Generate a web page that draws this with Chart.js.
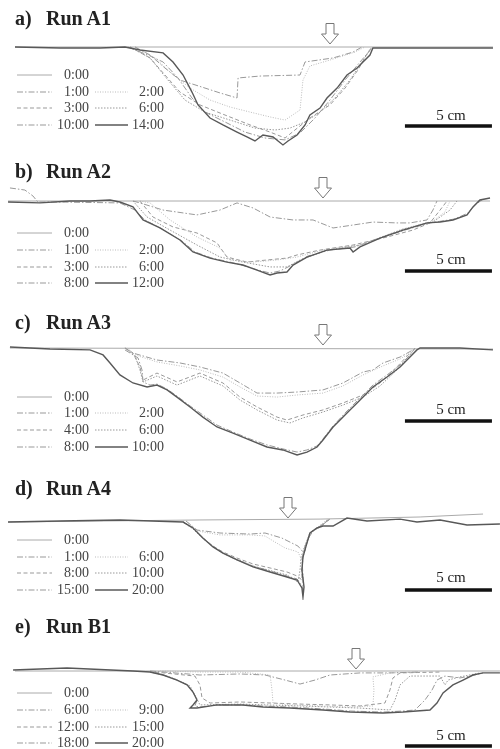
<!DOCTYPE html>
<html>
<head>
<meta charset="utf-8">
<script src="https://cdn.jsdelivr.net/npm/chart.js@4"></script>
<style>
	body { margin: 0; background: #fff; }
	#fig { position: relative; width: 500px; height: 749px; background: #fff; overflow: hidden; }
	#fig canvas { position: absolute; left: 0; }
	.ttl { position: absolute; font: bold 20px "Liberation Serif", serif; line-height: 20px; color: #222; white-space: nowrap; }
	.lg { position: absolute; font: 14px "Liberation Serif", serif; line-height: 16px; color: #444; text-align: right; width: 36px; }
	.bar-txt { position: absolute; left: 405px; width: 92px; text-align: center; font: 15px "Liberation Serif", serif; line-height: 15px; color: #222; }
	svg { position: absolute; overflow: visible; }
</style>
</head>
<body>
<div id="fig"></div>
<script>
// cross-section profiles, x = distance (cm), y = elevation relative to initial bed (cm)
const PX_PER_CM = 17.4; // 5 cm bar = 87 px
const X0_PX = 15;

// ---- a) Run A1
const A1_labels = ["0:00", "1:00", "2:00", "3:00", "6:00", "10:00", "14:00"];
const A1_t0 = [[0, 0], [27.47, 0]];
const A1_t1 = [[6.9, 0], [7.76, -0.46], [8.62, -1.21], [9.48, -1.9], [10.92, -2.36], [11.78, -2.64], [12.76, -2.93], [12.82, -1.78], [14.08, -1.67], [16.38, -1.61], [16.67, -0.86], [18.28, -0.63], [19.43, -0.29], [19.94, 0]];
const A1_t2 = [[6.9, 0], [8.05, -0.63], [8.91, -1.44], [10.06, -2.36], [11.21, -3.05], [12.36, -3.45], [13.51, -3.74], [14.66, -4.02], [15.52, -4.2], [16.38, -3.62], [16.55, -1.9], [16.95, -1.09], [18.1, -0.75], [19.54, -0.29], [20.11, 0]];
const A1_t3 = [[6.61, 0], [7.76, -0.63], [8.62, -1.61], [9.48, -2.59], [10.63, -3.33], [12.07, -3.91], [13.51, -4.48], [14.66, -4.89], [15.52, -5.23], [16.09, -4.77], [16.95, -4.08], [18.1, -3.33], [18.97, -2.36], [19.71, -1.32], [20.29, -0.29], [20.52, 0]];
const A1_t6 = [[6.61, 0], [7.76, -0.63], [8.79, -1.9], [9.77, -3.05], [10.92, -3.74], [12.36, -4.2], [13.79, -4.66], [14.94, -4.77], [15.8, -4.66], [16.67, -4.31], [17.53, -3.74], [18.39, -2.93], [19.25, -1.9], [19.94, -0.86], [20.4, -0.17]];
const A1_t10 = [[6.49, 0], [7.64, -0.46], [8.51, -0.86], [9.37, -1.78], [10.17, -2.93], [10.92, -3.74], [12.07, -4.31], [13.22, -4.89], [14.37, -5.23], [15.52, -5.34], [16.38, -4.94], [17.24, -4.08], [18.1, -3.05], [18.97, -1.9], [19.83, -0.86], [20.52, -0.06]];
const A1_t14 = [[0, 0], [2.59, -0.06], [4.89, -0.06], [6.32, 0], [7.18, -0.17], [8.51, -0.34], [9.08, -0.86], [9.66, -1.61], [10.17, -2.59], [10.52, -3.33], [11.21, -4.08], [11.95, -4.48], [12.76, -4.89], [13.33, -5.17], [13.79, -5.4], [14.25, -5.06], [14.83, -5.17], [15.4, -5.63], [15.69, -5.4], [16.21, -5.06], [16.67, -4.48], [16.95, -3.91], [17.53, -3.51], [17.93, -2.93], [18.51, -2.36], [19.08, -1.61], [19.66, -1.21], [20.0, -0.86], [20.4, -0.46], [20.57, -0.06], [22.13, -0.06], [25.0, -0.06], [27.47, -0.06]];

// ---- b) Run A2
const A2_labels = ["0:00", "1:00", "2:00", "3:00", "6:00", "8:00", "12:00"];
const A2_t0 = [[-0.4, 0], [27.3, 0]];
const A2_t1 = [[6.78, 0], [7.18, -0.11], [8.51, -0.52], [10.46, -0.8], [11.78, -0.52], [12.76, -0.11], [13.68, -0.4], [14.66, -0.92], [15.98, -1.09], [17.13, -1.09], [18.28, -1.55], [19.43, -1.38], [20.57, -1.21], [21.95, -1.26], [22.7, -1.26], [23.68, -1.09], [24.02, -0.52], [24.25, 0]];
const A2_t2 = [[7.18, 0], [7.76, -0.11], [8.91, -1.09], [10.46, -2.07], [11.78, -2.7], [12.36, -3.39], [13.68, -3.51], [15.06, -3.39], [16.21, -3.22], [17.93, -2.76], [19.83, -2.53], [22.3, -1.61], [24.02, -1.15], [24.71, -0.63], [25.0, 0]];
const A2_t3 = [[7.18, 0], [7.93, -0.92], [9.08, -1.49], [10.46, -1.84], [11.61, -2.41], [12.18, -3.22], [13.33, -3.51], [14.48, -3.39], [15.63, -3.28], [16.21, -3.1], [17.53, -2.82], [19.43, -2.53], [21.38, -2.07], [22.87, -1.67], [23.85, -1.26], [24.43, -0.52], [24.83, 0]];
const A2_t6 = [[6.78, 0], [7.59, -0.92], [8.91, -1.67], [10.46, -2.53], [11.78, -3.22], [13.1, -3.51], [14.66, -3.79], [15.63, -3.79], [16.38, -3.39], [17.93, -2.82], [19.83, -2.53], [22.3, -1.61], [24.02, -1.21], [25.0, -0.52], [25.4, 0]];
const A2_t8 = [[-0.29, 0.75], [0.57, 0.63], [1.03, 0.29], [1.32, -0.06], [2.59, -0.06], [6.03, -0.11], [6.9, -0.52], [7.47, -1.09], [8.45, -1.61], [9.6, -2.3], [10.34, -2.93], [11.32, -3.28], [12.36, -3.51], [13.22, -3.74], [13.97, -3.97], [14.66, -4.14], [15.23, -4.02], [15.8, -3.74], [16.84, -3.16], [18.1, -2.82], [19.54, -2.64], [20.98, -2.13], [22.41, -1.67], [23.85, -1.26], [25.29, -1.03], [26.03, -0.69], [26.44, -0.23], [26.9, 0.11]];
const A2_t12 = [[-0.4, -0.06], [1.44, -0.11], [3.16, 0], [4.31, 0], [5.46, 0.06], [6.03, -0.06], [6.78, -0.34], [7.36, -1.09], [8.33, -1.55], [9.48, -2.24], [10.23, -2.93], [11.21, -3.28], [12.18, -3.51], [13.1, -3.68], [13.91, -3.97], [14.66, -4.25], [15.06, -4.14], [15.63, -4.08], [15.98, -3.68], [16.78, -3.22], [17.93, -2.82], [19.25, -2.7], [19.43, -2.93], [19.83, -2.64], [20.98, -2.13], [22.3, -1.67], [23.68, -1.26], [24.43, -1.21], [25.17, -1.09], [25.98, -0.8], [26.32, -0.34], [26.72, 0.06], [27.3, 0.17]];

// ---- c) Run A3
const A3_labels = ["0:00", "1:00", "2:00", "4:00", "6:00", "8:00", "10:00"];
const A3_t0 = [[-0.29, 0], [27.47, -0.06]];
const A3_t1 = [[6.32, 0], [6.78, -0.29], [8.16, -0.69], [9.48, -0.86], [10.63, -1.09], [11.95, -1.44], [12.93, -2.01], [13.91, -2.59], [15.06, -2.59], [16.21, -2.53], [17.7, -2.41], [18.85, -2.01], [20.0, -1.38], [20.57, -1.26], [21.15, -0.86], [22.13, -0.52], [22.87, -0.11]];
const A3_t2 = [[6.49, 0], [6.9, -0.4], [8.16, -0.8], [9.48, -1.03], [10.63, -1.26], [11.95, -1.67], [12.93, -2.24], [13.91, -2.76], [15.06, -2.82], [16.21, -2.7], [17.7, -2.59], [18.85, -2.18], [20.0, -1.55], [21.15, -1.03], [22.13, -0.63], [22.99, -0.11]];
const A3_t4 = [[6.32, 0], [6.78, -0.29], [7.18, -1.09], [7.36, -1.84], [8.16, -1.44], [9.31, -1.95], [10.63, -1.44], [11.95, -2.01], [12.93, -2.82], [13.91, -3.39], [15.06, -3.97], [15.63, -4.14], [16.55, -3.85], [17.7, -3.56], [18.85, -3.16], [20.0, -2.7], [20.98, -2.01], [21.95, -1.09], [22.7, -0.29]];
const A3_t6 = [[6.32, 0], [6.9, -0.46], [7.18, -1.26], [7.36, -1.95], [8.16, -1.61], [9.31, -2.13], [10.63, -1.61], [11.95, -2.18], [12.93, -2.99], [13.91, -3.56], [15.06, -4.14], [15.8, -4.31], [16.55, -4.02], [17.7, -3.68], [18.85, -3.28], [20.0, -2.82], [20.98, -2.18], [21.95, -1.26], [22.7, -0.4], [22.99, 0]];
const A3_t8 = [[6.32, -0.11], [7.07, -0.57], [7.3, -1.26], [7.36, -1.95], [7.76, -2.13], [8.16, -2.07], [8.74, -2.36], [9.31, -2.76], [10.06, -3.33], [10.8, -3.85], [11.61, -4.43], [12.53, -4.83], [13.51, -5.23], [14.48, -5.57], [15.4, -5.8], [16.21, -5.98], [16.78, -5.86], [17.36, -5.63], [17.7, -5.23], [18.28, -4.48], [19.08, -3.62], [19.83, -2.87], [20.57, -2.13], [21.38, -1.55], [22.13, -0.98], [22.7, -0.4], [22.99, 0]];
const A3_t10 = [[-0.29, 0.06], [2.01, -0.06], [4.31, -0.11], [5.06, -0.4], [5.46, -0.86], [6.03, -1.55], [6.78, -2.01], [7.59, -2.24], [8.16, -2.13], [8.74, -2.41], [9.31, -2.82], [10.06, -3.39], [10.8, -3.97], [11.61, -4.54], [12.53, -4.89], [13.51, -5.29], [14.48, -5.69], [15.4, -5.86], [16.21, -6.15], [16.78, -5.98], [17.36, -5.69], [17.7, -5.29], [18.28, -4.54], [19.08, -3.74], [19.83, -2.99], [20.57, -2.24], [21.38, -1.67], [22.13, -1.09], [22.7, -0.52], [23.1, -0.11], [23.28, 0], [25.57, 0], [27.47, -0.11]];

// ---- d) Run A4
const A4_labels = ["0:00", "1:00", "6:00", "8:00", "10:00", "15:00", "20:00"];
const A4_t0 = [[-0.4, -0.06], [10.63, 0.06], [17.53, 0.11], [23.28, 0.23], [26.9, 0.4]];
const A4_t1 = [[9.83, 0], [10.46, -0.52], [11.78, -0.69], [13.51, -0.75], [14.37, -0.69], [15.34, -0.98], [16.26, -1.44], [16.61, -1.84], [16.78, -1.26], [16.95, -0.69], [17.36, -0.4], [17.7, -0.23], [17.99, 0.11]];
const A4_t6 = [[9.83, 0], [10.46, -0.57], [11.78, -0.8], [13.51, -0.8], [14.37, -0.86], [14.94, -1.21], [15.52, -1.55], [16.26, -1.78], [16.49, -2.24], [16.61, -1.55], [16.84, -1.09], [17.01, -0.63], [17.41, -0.34], [17.99, 0.11]];
const A4_t8 = [[9.66, -0.06], [10.23, -0.4], [10.8, -0.98], [11.38, -1.44], [11.95, -1.78], [12.76, -2.13], [13.68, -2.47], [14.66, -2.7], [15.63, -2.93], [16.21, -3.16], [16.49, -3.39], [16.49, -2.82], [16.55, -2.07], [16.78, -1.26], [16.95, -0.69], [17.36, -0.4], [18.1, 0.11]];
const A4_t10 = [[9.66, -0.06], [10.23, -0.46], [10.8, -1.03], [11.95, -1.84], [13.68, -2.59], [15.63, -3.1], [16.26, -3.51], [16.38, -2.82], [16.44, -2.07], [16.72, -1.26], [16.95, -0.69], [17.53, -0.34], [18.1, 0.11]];
const A4_t15 = [[9.66, -0.06], [10.23, -0.4], [10.8, -0.98], [11.38, -1.49], [11.95, -1.84], [12.76, -2.24], [13.68, -2.59], [14.66, -2.87], [15.63, -3.16], [16.21, -3.33], [16.49, -3.74], [16.55, -3.97], [16.55, -3.1], [16.49, -2.24], [16.61, -1.61], [16.84, -1.03], [17.13, -0.57], [17.53, -0.29], [18.1, 0.11]];
const A4_t20 = [[-0.4, -0.06], [2.59, 0], [6.03, 0.06], [9.66, -0.06], [10.23, -0.4], [10.8, -0.98], [11.38, -1.49], [11.95, -1.84], [12.76, -2.24], [13.68, -2.64], [14.66, -2.93], [15.63, -3.22], [16.21, -3.39], [16.49, -3.85], [16.55, -4.37], [16.61, -3.79], [16.49, -2.82], [16.55, -2.07], [16.78, -1.26], [16.95, -0.69], [17.36, -0.4], [17.7, -0.29], [18.28, -0.29], [19.08, 0.17], [20.23, 0], [22.13, 0.11], [23.1, -0.06], [24.43, 0.06], [25.98, -0.23], [27.87, -0.17]];

// ---- e) Run B1
const B1_labels = ["0:00", "6:00", "9:00", "12:00", "15:00", "18:00", "20:00"];
const B1_t0 = [[0, 0], [27.87, 0]];
const B1_t6 = [[7.76, 0], [9.2, -0.11], [10.63, -0.23], [12.93, -0.17], [14.37, -0.23], [15.52, -0.52], [16.38, -0.75], [17.24, -0.52], [18.1, -0.23], [19.83, -0.11], [21.55, -0.11], [23.28, -0.06]];
const B1_t9 = [[8.33, 0], [10.63, -0.06], [12.93, -0.06], [14.66, -0.23], [14.77, -1.09], [14.83, -1.84], [15.8, -1.95], [17.53, -2.01], [19.25, -2.07], [20.57, -2.01], [20.63, -1.09], [20.57, -0.34], [21.55, -0.11], [23.28, -0.06]];
const B1_t12 = [[8.05, -0.06], [10.34, -0.29], [10.63, -0.8], [10.75, -1.55], [11.21, -1.84], [12.93, -1.78], [14.66, -1.84], [16.38, -1.9], [18.1, -1.95], [19.83, -2.01], [21.26, -1.84], [21.55, -1.09], [21.72, -0.4], [22.13, -0.11], [24.43, -0.06]];
const B1_t15 = [[8.05, -0.06], [9.2, -0.46], [10.06, -0.86], [10.4, -1.49], [10.63, -1.95], [12.93, -1.9], [16.38, -2.01], [19.83, -2.13], [21.55, -2.24], [21.84, -1.67], [22.13, -0.8], [22.7, -0.29], [24.43, -0.29], [24.71, -0.8], [24.89, -0.52], [25.57, -0.34], [26.72, -0.11]];
const B1_t18 = [[7.76, -0.06], [8.51, -0.23], [9.31, -0.52], [9.89, -0.8], [10.23, -1.21], [10.46, -1.67], [10.34, -2.01], [10.63, -2.07], [11.61, -1.95], [13.1, -1.95], [14.25, -2.01], [15.8, -2.07], [17.7, -2.18], [19.25, -2.3], [21.15, -2.36], [22.3, -2.3], [22.99, -2.24], [23.56, -1.67], [23.97, -1.09], [24.25, -0.52], [24.71, -0.29], [25.57, -0.4], [26.15, -0.29], [26.9, -0.11]];
const B1_t20 = [[-0.11, 0.06], [2.99, 0.17], [6.78, 0], [7.76, -0.06], [8.51, -0.23], [9.31, -0.52], [9.89, -0.8], [10.23, -1.21], [10.46, -1.67], [10.23, -1.95], [10.06, -2.13], [10.46, -2.13], [11.61, -1.95], [13.1, -1.95], [14.25, -2.07], [15.8, -2.13], [17.7, -2.24], [19.25, -2.36], [21.15, -2.41], [22.3, -2.36], [23.85, -2.24], [24.25, -1.84], [24.6, -1.26], [25.17, -0.8], [25.75, -0.52], [26.32, -0.23], [26.9, -0.11], [27.87, -0.11]];

// 5 cm scale bar (x from/to in cm) and its elevation per panel
const scaleBarX = [22.41, 27.41];
const scaleBarY = [-4.54, -4.02, -4.2, -3.97, -4.31];

// line style per legend slot (same order in every panel)
const lineStyles = [
	{ color: "#aaa", width: 1, dash: [] },
	{ color: "#999", width: 1, dash: [6, 2, 1.5, 2] },
	{ color: "#bbb", width: 1, dash: [1, 1.5] },
	{ color: "#999", width: 1, dash: [4, 2.5] },
	{ color: "#999", width: 1, dash: [1.5, 1.5] },
	{ color: "#999", width: 1, dash: [6, 2, 1.5, 2] },
	{ color: "#585858", width: 1.4, dash: [] },
];

const panels = [
	{ letter: "a)", name: "Run A1", labels: A1_labels, series: [A1_t0, A1_t1, A1_t2, A1_t3, A1_t6, A1_t10, A1_t14],
		top: 0, height: 150, surface: 47, titleBase: 25, legendRows: [75, 92, 108, 125], barTextBase: 121, arrow: [330, 44] },
	{ letter: "b)", name: "Run A2", labels: A2_labels, series: [A2_t0, A2_t1, A2_t2, A2_t3, A2_t6, A2_t8, A2_t12],
		top: 150, height: 150, surface: 51, titleBase: 178, legendRows: [233, 250, 267, 283], barTextBase: 265, arrow: [323, 198] },
	{ letter: "c)", name: "Run A3", labels: A3_labels, series: [A3_t0, A3_t1, A3_t2, A3_t4, A3_t6, A3_t8, A3_t10],
		top: 300, height: 160, surface: 48, titleBase: 329, legendRows: [397, 413, 430, 447], barTextBase: 415, arrow: [323, 345] },
	{ letter: "d)", name: "Run A4", labels: A4_labels, series: [A4_t0, A4_t1, A4_t6, A4_t8, A4_t10, A4_t15, A4_t20],
		top: 450, height: 150, surface: 71, titleBase: 495, legendRows: [540, 557, 573, 590], barTextBase: 583, arrow: [288, 518] },
	{ letter: "e)", name: "Run B1", labels: B1_labels, series: [B1_t0, B1_t6, B1_t9, B1_t12, B1_t15, B1_t18, B1_t20],
		top: 600, height: 149, surface: 71, titleBase: 633, legendRows: [693, 710, 727, 743], barTextBase: 741, arrow: [356, 669] },
];

const fig = document.getElementById("fig");
const SVG_NS = "http://www.w3.org/2000/svg";

function addDiv(cls, text, left, top) {
	const d = document.createElement("div");
	d.className = cls;
	d.textContent = text;
	d.style.left = left + "px";
	d.style.top = top + "px";
	fig.appendChild(d);
	return d;
}

function addLegendEntry(style, label, slot, rows) {
	// slot 0 alone on first row, then two columns
	const row = slot === 0 ? 0 : Math.ceil(slot / 2);
	const col = slot === 0 ? 0 : (slot % 2 === 1 ? 0 : 1);
	const y = rows[row];
	const lineX = col === 0 ? 17 : 95;
	const lineW = col === 0 ? 35 : 33;
	const svg = document.createElementNS(SVG_NS, "svg");
	svg.setAttribute("width", lineW);
	svg.setAttribute("height", 4);
	svg.style.left = lineX + "px";
	svg.style.top = (y - 2) + "px";
	const ln = document.createElementNS(SVG_NS, "line");
	ln.setAttribute("x1", 0);
	ln.setAttribute("x2", lineW);
	ln.setAttribute("y1", 2);
	ln.setAttribute("y2", 2);
	ln.setAttribute("stroke", style.color);
	ln.setAttribute("stroke-width", style.width);
	if (style.dash.length) ln.setAttribute("stroke-dasharray", style.dash.join(" "));
	svg.appendChild(ln);
	fig.appendChild(svg);
	addDiv("lg", label, col === 0 ? 53 : 128, y - 8);
}

function addArrow(cx, tipY) {
	const svg = document.createElementNS(SVG_NS, "svg");
	svg.setAttribute("width", 18);
	svg.setAttribute("height", 22);
	svg.style.left = (cx - 9) + "px";
	svg.style.top = (tipY - 21) + "px";
	const poly = document.createElementNS(SVG_NS, "polygon");
	poly.setAttribute("points", "5,0.5 13,0.5 13,11 17.5,11 9,21 0.5,11 5,11");
	poly.setAttribute("fill", "#fff");
	poly.setAttribute("stroke", "#777");
	poly.setAttribute("stroke-width", "1");
	svg.appendChild(poly);
	fig.appendChild(svg);
}

panels.forEach((p, pi) => {
	const canvas = document.createElement("canvas");
	canvas.width = 500;
	canvas.height = p.height;
	canvas.style.top = p.top + "px";
	fig.appendChild(canvas);

	const datasets = p.series.map((pts, i) => {
		const st = lineStyles[i];
		return {
			label: p.labels[i],
			data: pts.map(([x, y]) => ({ x, y })),
			showLine: true,
			pointRadius: 0,
			borderColor: st.color,
			borderWidth: st.width,
			borderDash: st.dash,
			tension: 0,
			fill: false,
			order: i === 6 ? 0 : i === 0 ? 10 : 5, // final profile on top
		};
	});
	datasets.push({
		label: "5 cm",
		data: scaleBarX.map((x) => ({ x, y: scaleBarY[pi] })),
		showLine: true,
		pointRadius: 0,
		borderColor: "#111",
		borderWidth: 3.5,
		borderCapStyle: "butt",
		order: 0,
	});

	new Chart(canvas.getContext("2d"), {
		type: "scatter",
		data: { datasets },
		options: {
			responsive: false,
			animation: false,
			layout: { padding: 0 },
			scales: {
				x: { type: "linear", display: false, min: -X0_PX / PX_PER_CM, max: (500 - X0_PX) / PX_PER_CM },
				y: { type: "linear", display: false, min: -(p.height - p.surface) / PX_PER_CM, max: p.surface / PX_PER_CM },
			},
			plugins: { legend: { display: false }, tooltip: { enabled: false } },
		},
	});

	// titles, legend, bar label, flow arrow
	addDiv("ttl", p.letter, 15, p.titleBase - 17);
	addDiv("ttl", p.name, 46, p.titleBase - 17);
	p.labels.forEach((lab, i) => addLegendEntry(lineStyles[i], lab, i, p.legendRows));
	addDiv("bar-txt", "5 cm", 405, p.barTextBase - 12.6);
	addArrow(p.arrow[0], p.arrow[1]);
});
</script>
</body>
</html>
